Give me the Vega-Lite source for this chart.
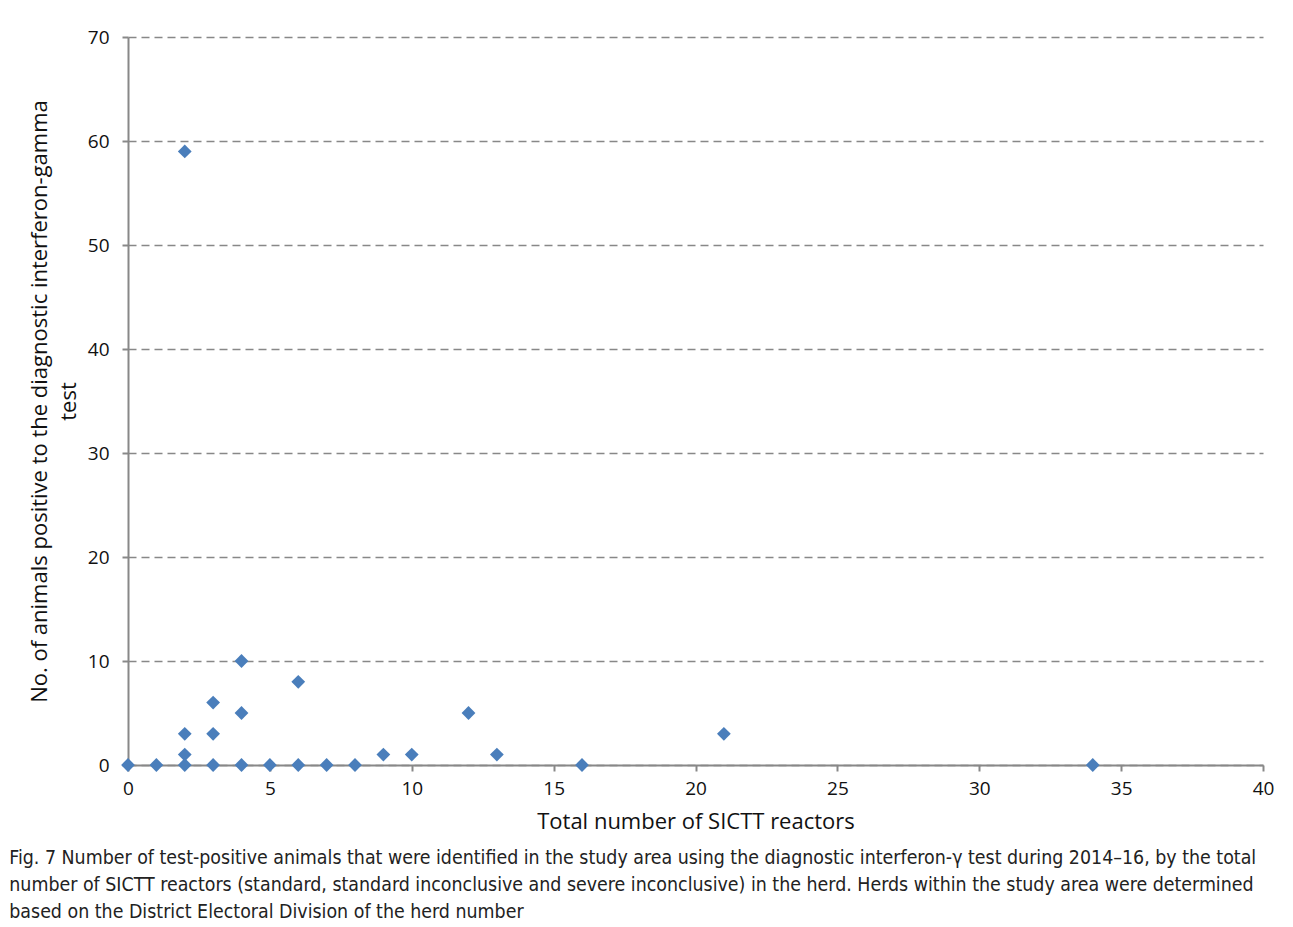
{
  "$schema": "https://vega.github.io/schema/vega-lite/v6.json",
  "autosize": "none",
  "width": 1135,
  "height": 728,
  "padding": {"left": 128, "top": 37, "right": 30, "bottom": 162},
  "background": "white",
  "config": {"view": {"stroke": null}},
  "title": {
    "text": ["Fig. 7 Number of test-positive animals that were identified in the study area using the diagnostic interferon-γ test during 2014–16, by the total", "number of SICTT reactors (standard, standard inconclusive and severe inconclusive) in the herd. Herds within the study area were determined", "based on the District Electoral Division of the herd number"],
    "orient": "bottom",
    "anchor": "start",
    "dx": -19,
    "offset": 17,
    "font": "DejaVu Sans Condensed",
    "fontSize": 19.4,
    "fontWeight": "normal",
    "lineHeight": 27,
    "color": "#222"
  },
  "data": {"values": [
    {"reactors": 0, "positive": 0},
    {"reactors": 1, "positive": 0},
    {"reactors": 2, "positive": 0},
    {"reactors": 2, "positive": 1},
    {"reactors": 2, "positive": 3},
    {"reactors": 2, "positive": 59},
    {"reactors": 3, "positive": 0},
    {"reactors": 3, "positive": 3},
    {"reactors": 3, "positive": 6},
    {"reactors": 4, "positive": 0},
    {"reactors": 4, "positive": 5},
    {"reactors": 4, "positive": 10},
    {"reactors": 5, "positive": 0},
    {"reactors": 6, "positive": 0},
    {"reactors": 6, "positive": 8},
    {"reactors": 7, "positive": 0},
    {"reactors": 8, "positive": 0},
    {"reactors": 9, "positive": 1},
    {"reactors": 10, "positive": 1},
    {"reactors": 12, "positive": 5},
    {"reactors": 13, "positive": 1},
    {"reactors": 16, "positive": 0},
    {"reactors": 21, "positive": 3},
    {"reactors": 34, "positive": 0}
  ]},
  "mark": {"type": "point", "shape": "diamond", "filled": true, "color": "#4A7EBB", "opacity": 1, "size": 190},
  "encoding": {
    "x": {
      "field": "reactors", "type": "quantitative",
      "scale": {"domain": [0, 40], "nice": false},
      "axis": {
        "values": [0, 5, 10, 15, 20, 25, 30, 35, 40],
        "title": "Total number of SICTT reactors",
        "titleFont": "Open Sans", "titleFontSize": 22, "titleFontWeight": "normal", "titleColor": "#111",
        "titlePadding": 13,
        "labelFont": "Open Sans", "labelFontSize": 19, "labelColor": "#111", "labelPadding": 8, "labelFlush": false,
        "domainColor": "#888", "domainWidth": 2, "tickColor": "#888", "tickWidth": 2, "tickSize": 6,
        "grid": false
      }
    },
    "y": {
      "field": "positive", "type": "quantitative",
      "scale": {"domain": [0, 70], "nice": false},
      "axis": {
        "values": [0, 10, 20, 30, 40, 50, 60, 70],
        "title": ["No. of animals positive to the diagnostic interferon-gamma", "test"],
        "titleFont": "Open Sans", "titleFontSize": 22, "titleFontWeight": "normal", "titleColor": "#111",
        "titlePadding": 7, "titleLineHeight": 29,
        "labelFont": "Open Sans", "labelFontSize": 19, "labelColor": "#111", "labelPadding": 13, "labelFlush": false,
        "domainColor": "#888", "domainWidth": 2, "tickColor": "#888", "tickWidth": 2, "tickSize": 6,
        "grid": true, "gridColor": "#888", "gridDash": [8, 5], "gridWidth": 1.5
      }
    }
  }
}
